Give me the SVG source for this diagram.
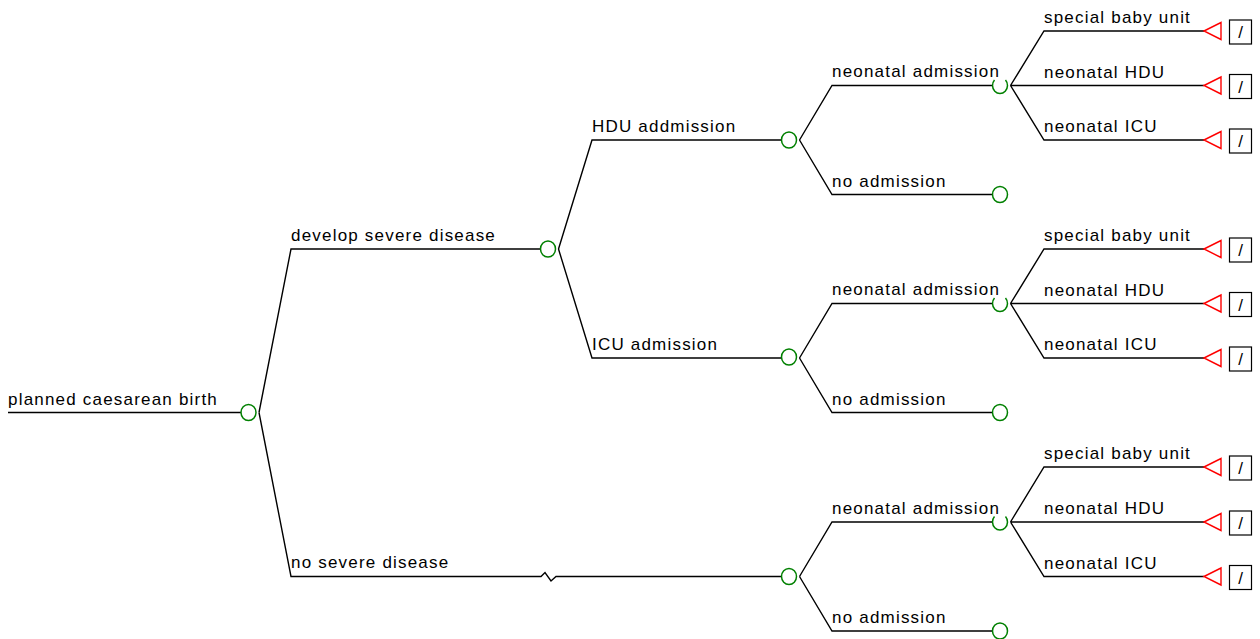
<svg xmlns="http://www.w3.org/2000/svg" width="1260" height="639" viewBox="0 0 1260 639">
<style>
.e{fill:none;stroke:#000;stroke-width:1.4}
.c{fill:#fff;stroke:#008000;stroke-width:1.5}
.a{fill:none;stroke:#008000;stroke-width:1.5}
.t{fill:#fff;stroke:#ff0000;stroke-width:1.4}
.b{fill:#fff;stroke:#000;stroke-width:1.2}
.l{font-family:"Liberation Sans",Arial,sans-serif;font-size:17px;letter-spacing:1.2px;fill:#000}
.s{font-family:"Liberation Sans",Arial,sans-serif;font-size:17px;fill:#000;text-anchor:middle}
</style>
<rect width="1260" height="639" fill="#fff"/>
<g id="connectors">
<path class="e" d="M8 412.5H241"/>
<path class="e" d="M259 412.5L291 249H540.5"/>
<path class="e" d="M259 412.5L291 576.5H541L545 572.5L551 581L556 576.5H781.5"/>
<path class="e" d="M558.5 249L592 140H781.5"/>
<path class="e" d="M558.5 249L592 358H781.5"/>
<path class="e" d="M799.5 140L832 85.5H992.5"/>
<path class="e" d="M799.5 140L832 194.5H992.5"/>
<path class="e" d="M799.5 358L832 303.5H992.5"/>
<path class="e" d="M799.5 358L832 412.5H992.5"/>
<path class="e" d="M799.5 576.5L832 522H992.5"/>
<path class="e" d="M799.5 576.5L832 631H992.5"/>
<path class="e" d="M1010.5 85.5L1044 31H1204M1010.5 85.5H1204M1010.5 85.5L1044 140H1204"/>
<path class="e" d="M1010.5 303.5L1044 249H1204M1010.5 303.5H1204M1010.5 303.5L1044 358H1204"/>
<path class="e" d="M1010.5 522L1044 467H1204M1010.5 522H1204M1010.5 522L1044 576.5H1204"/>
<text class="l" x="8" y="404.5">planned caesarean birth</text>
<text class="l" x="291" y="240.5">develop severe disease</text>
<text class="l" x="291" y="568">no severe disease</text>
<text class="l" x="592" y="131.5">HDU addmission</text>
<text class="l" x="592" y="349.5">ICU admission</text>
<text class="l" x="832" y="77">neonatal admission</text>
<text class="l" x="832" y="186.5">no admission</text>
<text class="l" x="832" y="295">neonatal admission</text>
<text class="l" x="832" y="404.5">no admission</text>
<text class="l" x="832" y="513.5">neonatal admission</text>
<text class="l" x="832" y="623">no admission</text>
<text class="l" x="1044" y="23">special baby unit</text>
<text class="l" x="1044" y="77.5">neonatal HDU</text>
<text class="l" x="1044" y="132">neonatal ICU</text>
<text class="l" x="1044" y="241">special baby unit</text>
<text class="l" x="1044" y="295.5">neonatal HDU</text>
<text class="l" x="1044" y="350">neonatal ICU</text>
<text class="l" x="1044" y="459">special baby unit</text>
<text class="l" x="1044" y="514">neonatal HDU</text>
<text class="l" x="1044" y="568.5">neonatal ICU</text>
</g>
<g id="n_root"><ellipse class="c" cx="248.5" cy="412.5" rx="7.5" ry="8"/></g>
<g id="n_severe"><ellipse class="c" cx="548" cy="249" rx="7.5" ry="8"/></g>
<g id="n_hdu"><ellipse class="c" cx="789" cy="140" rx="7.5" ry="8"/></g>
<g id="n_icu"><ellipse class="c" cx="789" cy="357" rx="7.5" ry="8"/></g>
<g id="n_nosevere"><ellipse class="c" cx="789" cy="576.5" rx="7.5" ry="8"/></g>
<g id="n_hdu_neo"><path class="a" d="M994.5 80A7.5 8 0 1 0 1005.5 80"/></g>
<g id="n_hdu_noadm"><ellipse class="c" cx="1000" cy="194.5" rx="7.5" ry="8"/></g>
<g id="n_icu_neo"><path class="a" d="M994.5 298A7.5 8 0 1 0 1005.5 298"/></g>
<g id="n_icu_noadm"><ellipse class="c" cx="1000" cy="412.5" rx="7.5" ry="8"/></g>
<g id="n_ns_neo"><path class="a" d="M994.5 516.5A7.5 8 0 1 0 1005.5 516.5"/></g>
<g id="n_ns_noadm"><ellipse class="c" cx="1000" cy="631" rx="7.5" ry="8"/></g>
<g id="t1"><polygon class="t" points="1204,31 1221,22.5 1221,39.5"/><rect class="b" x="1229.5" y="20" width="22" height="24"/><text class="s" x="1240.5" y="38">/</text></g>
<g id="t2"><polygon class="t" points="1204,85.5 1221,77 1221,94"/><rect class="b" x="1229.5" y="74.5" width="22" height="24"/><text class="s" x="1240.5" y="92.5">/</text></g>
<g id="t3"><polygon class="t" points="1204,140 1221,131.5 1221,148.5"/><rect class="b" x="1229.5" y="129" width="22" height="24"/><text class="s" x="1240.5" y="147">/</text></g>
<g id="t4"><polygon class="t" points="1204,249 1221,240.5 1221,257.5"/><rect class="b" x="1229.5" y="238" width="22" height="24"/><text class="s" x="1240.5" y="256">/</text></g>
<g id="t5"><polygon class="t" points="1204,303.5 1221,295 1221,312"/><rect class="b" x="1229.5" y="292.5" width="22" height="24"/><text class="s" x="1240.5" y="310.5">/</text></g>
<g id="t6"><polygon class="t" points="1204,358 1221,349.5 1221,366.5"/><rect class="b" x="1229.5" y="347" width="22" height="24"/><text class="s" x="1240.5" y="365">/</text></g>
<g id="t7"><polygon class="t" points="1204,467 1221,458.5 1221,475.5"/><rect class="b" x="1229.5" y="456" width="22" height="24"/><text class="s" x="1240.5" y="474">/</text></g>
<g id="t8"><polygon class="t" points="1204,522 1221,513.5 1221,530.5"/><rect class="b" x="1229.5" y="511" width="22" height="24"/><text class="s" x="1240.5" y="529">/</text></g>
<g id="t9"><polygon class="t" points="1204,576.5 1221,568 1221,585"/><rect class="b" x="1229.5" y="565.5" width="22" height="24"/><text class="s" x="1240.5" y="583.5">/</text></g>
</svg>
